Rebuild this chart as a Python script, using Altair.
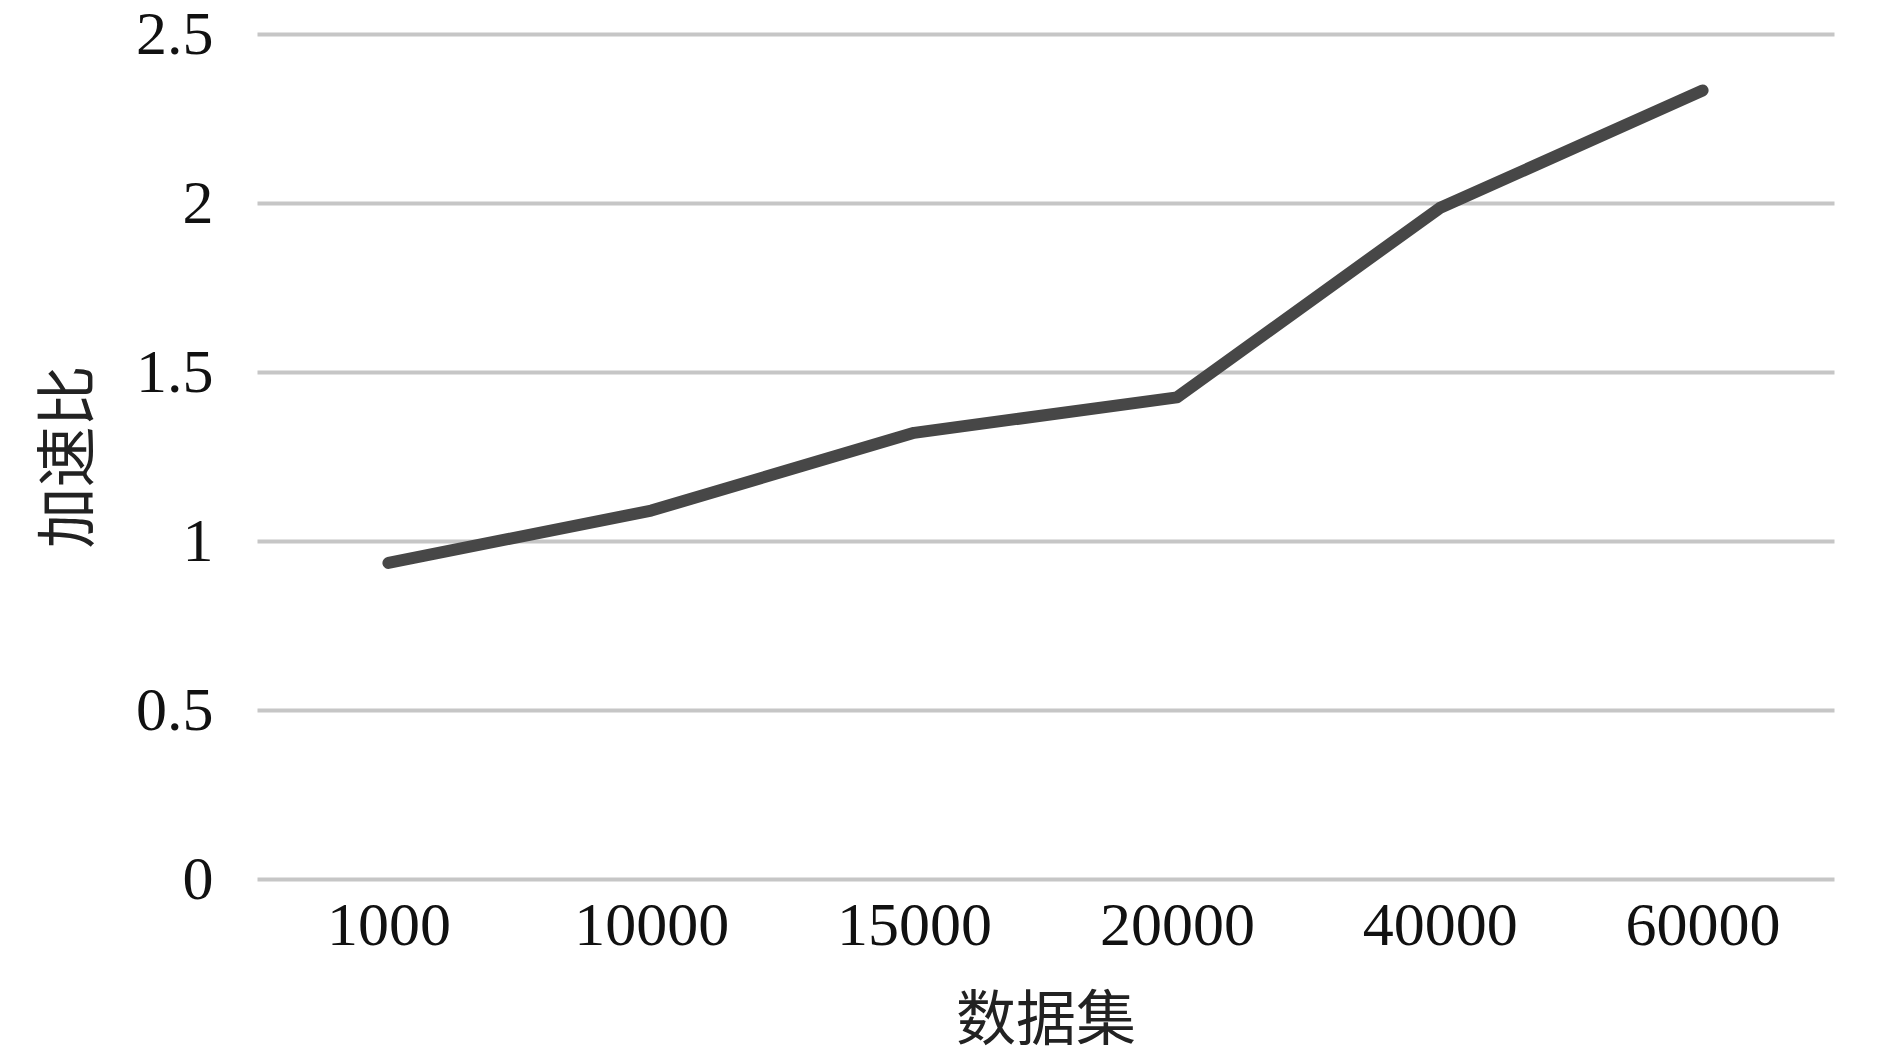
import altair as alt
import pandas as pd

datasets = ["1000", "10000", "15000", "20000", "40000", "60000"]
speedup = [0.935, 1.09, 1.32, 1.425, 1.985, 2.333]
y_ticks = [0, 0.5, 1, 1.5, 2, 2.5]

df = pd.DataFrame({"数据集": datasets, "加速比": speedup})

serif = "Liberation Serif"
cjk = "Noto Sans CJK SC"

chart = alt.Chart(df).mark_line(
    color="#474747", strokeWidth=12, strokeCap="round", strokeJoin="round"
).encode(
    x=alt.X("数据集:N", sort=datasets,
            scale=alt.Scale(paddingInner=0, paddingOuter=0.5),
            axis=alt.Axis(title="数据集", labelAngle=0, grid=False, domain=False, ticks=False,
                          labelFont=serif, labelFontSize=62, labelColor="#111111",
                          labelPadding=16, titleFont=cjk, titleFontSize=60,
                          titleFontWeight="normal", titleColor="#222222", titlePadding=36,
                          bandPosition=0.5)),
    y=alt.Y("加速比:Q", scale=alt.Scale(domain=[0, 2.5], nice=False),
            axis=alt.Axis(title="加速比", values=y_ticks, format="~g", grid=True,
                          gridColor="#c6c6c6", gridWidth=4, domain=False, ticks=False,
                          labelFont=serif, labelFontSize=62, labelColor="#111111",
                          labelPadding=44, titleFont=cjk, titleFontSize=61,
                          titleFontWeight="normal", titleColor="#222222", titlePadding=34)),
).properties(
    width=1577, height=845,
    autosize=alt.AutoSizeParams(type="none"),
    padding={"left": 249, "top": 26, "right": 30, "bottom": 170},
).configure(background="white").configure_view(stroke=None, strokeWidth=0)

chart.save("out.html", embed_options={"renderer": "svg", "actions": False})
